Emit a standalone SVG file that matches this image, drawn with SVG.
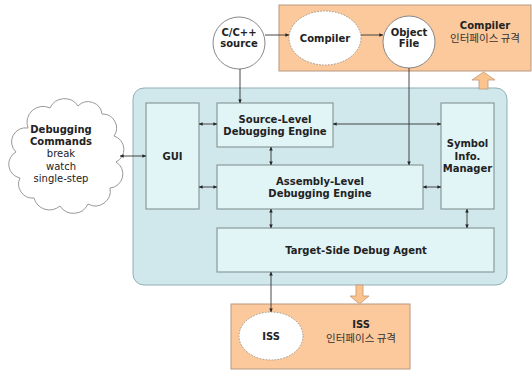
<svg xmlns="http://www.w3.org/2000/svg" width="532" height="371" viewBox="0 0 532 371">
<style>
.b{font-family:"DejaVu Sans","Verdana",sans-serif;font-weight:bold;font-size:10px;fill:#222;text-anchor:middle}
.r{font-family:"DejaVu Sans",sans-serif;font-size:10px;fill:#222;text-anchor:middle}
.k{font-family:"Noto Sans CJK KR",sans-serif;font-size:10.5px;fill:#333;text-anchor:middle}
.org{fill:#fcc99c;stroke:#b89880;stroke-width:1}
.box{fill:#e1f4f6;stroke:#8a9a9c;stroke-width:1.2}
.ell{fill:#fff;stroke:#888;stroke-width:1}
.dash{fill:#fff;stroke:#999;stroke-width:1;stroke-dasharray:1.5,1.5}
.ln{fill:none;stroke:#333;stroke-width:0.9}
.blk{fill:#fbc48e;stroke:#c09878;stroke-width:0.8}
</style>
<defs>
<marker id="ah" viewBox="0 0 6 6" refX="6" refY="3" markerWidth="4" markerHeight="4" orient="auto-start-reverse">
<path d="M0,0 L6,3 L0,6 Z" fill="#222"/>
</marker>
</defs>
<g id="compiler-interface">
<rect class="org" x="279" y="5" width="252" height="66"/>
<text class="b" x="485" y="29">Compiler</text>
<text class="k" x="485" y="42">인터페이스 규격</text>
</g>
<g id="main-system">
<rect x="133" y="88" width="374" height="197" rx="11" fill="#d0e8ec" stroke="#90b0b5" stroke-width="1"/>
</g>
<g id="iss-interface">
<rect class="org" x="231" y="304" width="179" height="65"/>
<text class="b" x="361" y="328">ISS</text>
<text class="k" x="361" y="342">인터페이스 규격</text>
</g>
<g id="block-arrows">
<path class="blk" d="M479,89 V80 H472 L483.5,72 L495,80 H488 V89 Z"/>
<path class="blk" d="M356,285 V296 H350 L359.5,304 L369,296 H363 V285 Z"/>
</g>
<g id="cc-source">
<circle class="ell" cx="239" cy="43" r="26"/>
<text class="b" x="239" y="36">C/C++</text>
<text class="b" x="239" y="47">source</text>
</g>
<g id="compiler">
<ellipse class="dash" cx="325" cy="38" rx="36" ry="27"/>
<text class="b" x="325" y="42">Compiler</text>
</g>
<g id="object-file">
<circle class="ell" cx="409" cy="42" r="26"/>
<text class="b" x="409" y="36">Object</text>
<text class="b" x="409" y="47">File</text>
</g>
<g id="debugging-commands">
<path d="M28,128 a16,16 0 0 1 22,-20 a16,16 0 0 1 28,-2 a14,14 0 0 1 24,8 a14,14 0 0 1 12,22 a14,14 0 0 1 2,26 a14,14 0 0 1 -6,26 a15,15 0 0 1 -22,16 a16,16 0 0 1 -28,2 a16,16 0 0 1 -26,-8 a14,14 0 0 1 -14,-20 a14,14 0 0 1 -4,-26 a14,14 0 0 1 12,-24 Z" fill="#fff" stroke="#999" stroke-width="1"/>
<text class="b" x="61" y="133">Debugging</text>
<text class="b" x="61" y="145">Commands</text>
<text class="r" x="61" y="157">break</text>
<text class="r" x="61" y="170">watch</text>
<text class="r" x="61" y="182">single-step</text>
</g>
<g id="gui">
<rect class="box" x="146" y="103" width="53" height="106"/>
<text class="b" x="172.5" y="160">GUI</text>
</g>
<g id="source-level">
<rect class="box" x="217" y="103" width="116" height="44"/>
<text class="b" x="275" y="123">Source-Level</text>
<text class="b" x="275" y="135">Debugging Engine</text>
</g>
<g id="assembly-level">
<rect class="box" x="217" y="165" width="206" height="44"/>
<text class="b" x="320" y="185">Assembly-Level</text>
<text class="b" x="320" y="197">Debugging Engine</text>
</g>
<g id="symbol-info">
<rect class="box" x="441" y="103" width="53" height="106"/>
<text class="b" x="467.5" y="147">Symbol</text>
<text class="b" x="467.5" y="160">Info.</text>
<text class="b" x="467.5" y="172">Manager</text>
</g>
<g id="target-agent">
<rect class="box" x="217" y="228" width="277" height="44"/>
<text class="b" x="356" y="254">Target-Side Debug Agent</text>
</g>
<g id="iss">
<ellipse class="dash" cx="271" cy="336" rx="32" ry="24"/>
<text class="b" x="271" y="340">ISS</text>
</g>
<g id="connectors">
<line class="ln" x1="265" y1="35" x2="289" y2="35" marker-end="url(#ah)"/>
<line class="ln" x1="361" y1="35" x2="383" y2="35" marker-end="url(#ah)"/>
<line class="ln" x1="240" y1="69" x2="240" y2="103" marker-end="url(#ah)"/>
<line class="ln" x1="409" y1="68" x2="409" y2="165" marker-end="url(#ah)"/>
<line class="ln" x1="120" y1="156" x2="146" y2="156" marker-start="url(#ah)" marker-end="url(#ah)"/>
<line class="ln" x1="199" y1="124" x2="217" y2="124" marker-start="url(#ah)" marker-end="url(#ah)"/>
<line class="ln" x1="199" y1="187" x2="217" y2="187" marker-start="url(#ah)" marker-end="url(#ah)"/>
<line class="ln" x1="333" y1="124" x2="441" y2="124" marker-start="url(#ah)" marker-end="url(#ah)"/>
<line class="ln" x1="271" y1="147" x2="271" y2="165" marker-start="url(#ah)" marker-end="url(#ah)"/>
<line class="ln" x1="423" y1="187" x2="441" y2="187" marker-start="url(#ah)" marker-end="url(#ah)"/>
<line class="ln" x1="271" y1="209" x2="271" y2="228" marker-start="url(#ah)" marker-end="url(#ah)"/>
<line class="ln" x1="467" y1="209" x2="467" y2="228" marker-start="url(#ah)" marker-end="url(#ah)"/>
<line class="ln" x1="271" y1="272" x2="271" y2="312" marker-start="url(#ah)" marker-end="url(#ah)"/>
</g>
</svg>
